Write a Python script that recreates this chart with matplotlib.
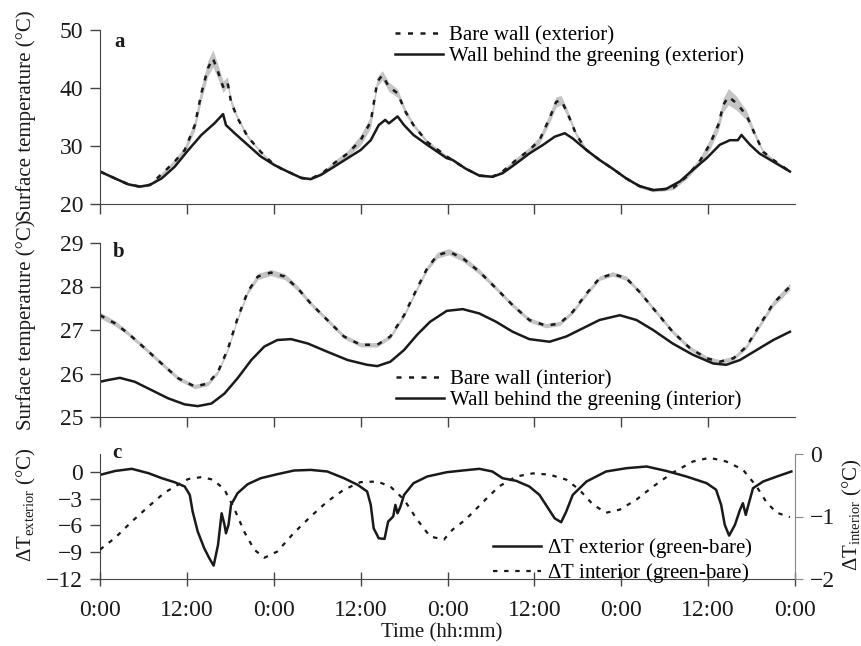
import matplotlib
matplotlib.use('Agg')
import matplotlib.pyplot as plt
import numpy as np

plt.rcParams['font.family'] = ['Liberation Serif', 'DejaVu Serif']
plt.rcParams['mathtext.fontset'] = 'custom'
plt.rcParams['mathtext.rm'] = 'Liberation Serif'
plt.rcParams['mathtext.it'] = 'Liberation Serif:italic'

# hours since start (4 days)
xticks = [0, 12, 24, 36, 48, 60, 72, 84, 96]
xticklabels = ['0:00', '12:00', '0:00', '12:00', '0:00', '12:00', '0:00', '12:00', '0:00']

# --- panel a: exterior surface temperature ---
t_bare_ext = [0, 2.1, 3.9, 5.5, 6.9, 8.9, 10.3, 11.7, 13.1, 14.0, 14.9, 15.6, 16.3, 17.0, 17.6, 18.1,
              19.0, 20.4, 22.2, 23.6, 25.0, 25.9, 27.8, 29.1, 31.0, 32.3, 34.2, 36.0, 37.4, 38.3, 39.0,
              39.9, 41.1, 42.2, 43.3, 45.2, 47.9, 50.5, 52.4, 54.2, 55.6, 57.5, 59.3, 60.7, 62.1, 63.0,
              63.7, 64.6, 65.8, 67.2, 69.0, 70.8, 72.7, 74.5, 76.4, 78.2, 79.2, 81.0, 82.8, 84.2, 85.4,
              86.1, 86.8, 87.9, 89.3, 90.5, 91.6, 93.0, 95.3]
bare_ext = [25.6, 24.4, 23.4, 23.0, 23.3, 25.6, 27.3, 29.3, 33.6, 39.1, 43.4, 45.1, 42.8, 40.2, 41.1, 37.6,
            34.8, 31.6, 29.0, 27.3, 26.1, 25.6, 24.5, 24.3, 25.6, 27.0, 28.7, 31.0, 34.2, 41.1, 42.2,
            40.2, 39.1, 35.9, 33.6, 30.7, 28.2, 26.1, 24.9, 24.7, 25.6, 27.6, 29.3, 31.0, 34.8, 37.6,
            37.9, 35.6, 31.9, 29.3, 27.6, 26.1, 24.4, 23.1, 22.4, 22.6, 22.8, 24.7, 27.3, 30.2, 33.6,
            37.1, 38.5, 37.4, 35.3, 31.9, 29.0, 27.6, 25.6]
bare_ext_sd = [0.2, 0.2, 0.2, 0.2, 0.2, 0.3, 0.4, 0.6, 0.9, 1.2, 1.3, 1.5, 1.2, 1.0, 0.8, 0.6,
               0.4, 0.3, 0.2, 0.2, 0.2, 0.2, 0.2, 0.2, 0.3, 0.4, 0.5, 0.9, 1.0, 0.8, 0.8,
               0.8, 0.7, 0.5, 0.4, 0.3, 0.2, 0.2, 0.2, 0.2, 0.3, 0.4, 0.5, 0.6, 0.8, 0.9,
               0.8, 0.6, 0.4, 0.3, 0.2, 0.2, 0.2, 0.3, 0.3, 0.3, 0.3, 0.4, 0.6, 0.9, 1.0,
               1.2, 1.4, 1.2, 0.8, 0.5, 0.3, 0.2, 0.2]

t_green_ext = [0, 2.1, 3.9, 5.5, 6.9, 8.5, 10.3, 12.2, 14.0, 15.8, 17.0, 17.4, 18.6, 20.4, 22.2, 24.1,
               25.9, 27.8, 29.1, 30.5, 32.3, 34.2, 36.0, 37.4, 38.5, 39.4, 39.9, 41.1, 42.0, 43.3, 45.2,
               47.9, 48.7, 50.5, 52.4, 54.2, 55.6, 57.5, 59.3, 61.2, 62.8, 64.2, 65.3, 67.2, 69.0, 70.8,
               72.7, 74.5, 76.4, 78.2, 80.1, 81.9, 83.8, 85.6, 87.0, 88.1, 88.6, 89.8, 91.1, 93.0, 95.3]
green_ext = [25.6, 24.4, 23.4, 23.0, 23.3, 24.4, 26.4, 29.3, 31.9, 33.9, 35.5, 33.6, 32.2, 30.2, 28.2, 26.7,
             25.6, 24.5, 24.3, 25.0, 26.4, 27.9, 29.3, 31.0, 33.6, 34.5, 33.9, 35.1, 33.6, 31.9, 30.2,
             27.9, 27.6, 26.1, 24.9, 24.7, 25.3, 27.0, 28.7, 30.2, 31.6, 32.2, 31.3, 29.3, 27.6, 26.1,
             24.4, 23.1, 22.4, 22.6, 23.9, 25.9, 27.9, 30.2, 31.0, 31.0, 31.9, 30.2, 28.7, 27.3, 25.6]

# --- panel b: interior surface temperature ---
t_bare_int = [0, 2.1, 3.9, 6.2, 8.5, 10.8, 13.1, 14.9, 16.3, 17.7, 19.0, 20.4, 21.8, 23.6, 25.5, 27.3,
              29.1, 31.4, 33.7, 36.0, 38.3, 40.1, 42.0, 43.8, 45.2, 46.6, 48.2, 50.1, 52.4, 54.7, 57.0,
              59.3, 61.6, 63.5, 65.3, 67.2, 69.0, 70.8, 72.7, 74.5, 76.8, 79.1, 81.5, 83.8, 85.6, 87.5,
              89.3, 91.1, 93.0, 95.3]
bare_int = [27.34, 27.15, 26.92, 26.58, 26.23, 25.89, 25.70, 25.77, 26.04, 26.58, 27.27, 27.88, 28.23,
            28.32, 28.23, 27.96, 27.61, 27.23, 26.85, 26.66, 26.66, 26.85, 27.34, 27.96, 28.42, 28.72,
            28.80, 28.65, 28.34, 27.96, 27.57, 27.23, 27.10, 27.15, 27.42, 27.84, 28.19, 28.29, 28.19,
            27.88, 27.42, 26.96, 26.58, 26.35, 26.27, 26.35, 26.62, 27.11, 27.61, 28.00]
bare_int_sd = [0.07, 0.06, 0.05, 0.05, 0.05, 0.05, 0.05, 0.05, 0.05, 0.05, 0.05, 0.06, 0.07,
               0.07, 0.07, 0.06, 0.05, 0.05, 0.05, 0.05, 0.05, 0.05, 0.05, 0.05, 0.06, 0.07,
               0.07, 0.07, 0.06, 0.05, 0.05, 0.05, 0.05, 0.05, 0.05, 0.05, 0.05, 0.05, 0.05,
               0.05, 0.05, 0.05, 0.05, 0.05, 0.05, 0.05, 0.05, 0.06, 0.07, 0.08]

t_green_int = [0, 1.1, 2.75, 4.8, 7.1, 9.4, 11.7, 13.5, 15.4, 17.2, 19.0, 20.9, 22.7, 24.5, 26.4, 28.7,
               31.4, 34.2, 36.9, 38.3, 40.1, 42.0, 43.8, 45.6, 47.9, 50.1, 52.4, 54.7, 57.0, 59.3, 62.1,
               64.4, 66.7, 69.0, 71.8, 74.1, 76.4, 79.1, 81.9, 84.7, 86.5, 88.4, 90.7, 93.0, 95.3]
green_int = [25.81, 25.85, 25.90, 25.81, 25.62, 25.43, 25.29, 25.25, 25.31, 25.54, 25.89, 26.31, 26.62,
             26.77, 26.79, 26.69, 26.50, 26.31, 26.20, 26.17, 26.27, 26.54, 26.89, 27.19, 27.44, 27.48,
             27.38, 27.19, 26.96, 26.79, 26.73, 26.85, 27.04, 27.23, 27.34, 27.23, 27.00, 26.69, 26.43,
             26.23, 26.20, 26.31, 26.54, 26.77, 26.96]

# --- panel c: differences (green - bare) ---
t_dext = [0, 2.1, 4.4, 6.7, 8.5, 10.3, 11.7, 12.4, 12.8, 13.5, 14.4, 15.1, 15.7, 16.3, 16.8, 17.2, 17.4,
          17.75, 18.1, 19.0, 20.4, 22.2, 24.5, 26.8, 29.1, 31.4, 33.7, 35.6, 36.9, 37.4, 37.8, 38.5, 39.3,
          39.8, 40.5, 40.8, 41.1, 41.5, 42.0, 43.3, 45.2, 47.9, 49.6, 52.4, 54.2, 55.6, 57.5, 59.3, 60.7,
          61.6, 62.8, 63.7, 64.4, 65.3, 67.2, 69.9, 72.7, 75.5, 78.2, 81.0, 83.8, 85.1, 85.8, 86.3, 86.9,
          87.7, 88.4, 88.8, 89.2, 89.5, 90.2, 91.6, 93.5, 95.5]
dT_ext = [-0.34, 0.1, 0.34, -0.15, -0.7, -1.16, -1.64, -2.58, -4.45, -6.69, -8.56, -9.68, -10.5, -8.19,
          -4.64, -5.94, -6.88, -5.94, -3.7, -2.39, -1.38, -0.71, -0.26, 0.15, 0.22, 0.04, -0.71, -1.46,
          -2.2, -3.7, -6.32, -7.44, -7.51, -5.57, -5.0, -3.7, -4.64, -3.89, -2.58, -1.27, -0.52, -0.04,
          0.11, 0.34, 0.04, -0.71, -1.01, -1.64, -2.58, -3.7, -5.2, -5.64, -4.45, -2.58, -1.08, 0.04,
          0.41, 0.6, 0.11, -0.52, -1.27, -2.0, -3.7, -5.94, -7.14, -5.94, -4.26, -3.51, -4.82, -3.89,
          -1.83, -1.08, -0.52, 0.04]

t_dint = [0, 2.1, 4.4, 6.7, 8.9, 10.8, 12.2, 14.0, 15.6, 17.2, 18.6, 20.0, 21.3, 22.7, 24.5, 26.8, 29.1,
          31.4, 33.7, 36.0, 38.3, 40.1, 42.0, 43.8, 45.6, 47.5, 48.7, 50.5, 52.8, 55.1, 57.5, 59.8, 62.1,
          64.4, 66.2, 68.1, 69.9, 71.8, 74.1, 76.4, 79.1, 81.9, 84.2, 86.5, 88.8, 90.7, 92.1, 93.5, 95.3]
dT_int = [-1.53, -1.34, -1.08, -0.84, -0.62, -0.49, -0.40, -0.37, -0.41, -0.57, -0.89, -1.26, -1.53,
          -1.66, -1.56, -1.26, -1.0, -0.76, -0.57, -0.45, -0.44, -0.52, -0.73, -1.05, -1.32, -1.37,
          -1.21, -1.05, -0.78, -0.52, -0.36, -0.31, -0.33, -0.41, -0.57, -0.81, -0.94, -0.89, -0.73,
          -0.52, -0.30, -0.12, -0.06, -0.12, -0.25, -0.52, -0.78, -0.94, -1.01]

ink = '#1a1a1a'
band = '#c4c4c4'
dash = (0, (2, 3))
W, H = 862, 646


def box(top, bottom):
    return [100 / W, 1 - bottom / H, 695 / W, (bottom - top) / H]


fig = plt.figure(figsize=(8.62, 6.46), dpi=100)
ax1 = fig.add_axes(box(30, 204))
ax2 = fig.add_axes(box(243, 417))
ax3 = fig.add_axes(box(454, 579))
ax4 = ax3.twinx()

for ax in [ax1, ax2, ax3]:
    ax.spines['top'].set_visible(False)
    ax.spines['right'].set_visible(False)
    ax.spines['left'].set_color('#444444')
    ax.spines['bottom'].set_color('#444444')
    ax.set_xlim(0, 96)
    ax.tick_params(colors='#444444', labelcolor=ink, labelsize=17, width=1, length=7, pad=5)

# a
b_ext = np.array(bare_ext)
s_ext = np.array(bare_ext_sd)
ax1.fill_between(t_bare_ext, b_ext - s_ext, b_ext + s_ext, color=band, lw=0)
ax1.plot(t_green_ext, green_ext, color=ink, lw=1.8, label='Wall behind the greening (exterior)')
ax1.plot(t_bare_ext, bare_ext, color=ink, lw=1.8, ls=dash, label='Bare wall (exterior)')
ax1.set_ylim(20, 50)
ax1.set_yticks([20, 30, 40, 50])
ax1.set_xticks(xticks[:-1])
ax1.set_xticklabels([])
h, l = ax1.get_legend_handles_labels()
ax1.legend(h[::-1], l[::-1], loc='upper left', bbox_to_anchor=(395 / W, 1 - 26 / H),
           bbox_transform=fig.transFigure, frameon=False, fontsize=15, handlelength=2.3,
           handletextpad=0.3, labelspacing=0.05, borderpad=0, borderaxespad=0)

# b
b_int = np.array(bare_int)
s_int = np.array(bare_int_sd)
ax2.fill_between(t_bare_int, b_int - s_int, b_int + s_int, color=band, lw=0)
ax2.plot(t_green_int, green_int, color=ink, lw=1.8, label='Wall behind the greening (interior)')
ax2.plot(t_bare_int, bare_int, color=ink, lw=1.8, ls=dash, label='Bare wall (interior)')
ax2.set_ylim(25, 29)
ax2.set_yticks([25, 26, 27, 28, 29])
ax2.set_xticks(xticks[:-1])
ax2.set_xticklabels([])
h, l = ax2.get_legend_handles_labels()
ax2.legend(h[::-1], l[::-1], loc='upper left', bbox_to_anchor=(396 / W, 1 - 370 / H),
           bbox_transform=fig.transFigure, frameon=False, fontsize=15, handlelength=2.3,
           handletextpad=0.3, labelspacing=0.05, borderpad=0, borderaxespad=0)

# c
l1, = ax3.plot(t_dext, dT_ext, color=ink, lw=1.8)
l2, = ax4.plot(t_dint, dT_int, color=ink, lw=1.6, ls=dash)
ax3.set_ylim(-12, 2)
ax3.set_yticks([-12, -9, -6, -3, 0])
ax3.set_xticks(xticks)
ax3.set_xticklabels(xticklabels)
ax3.tick_params(axis='x', direction='inout', length=10, pad=10)
ax4.set_ylim(-2, 0)
ax4.set_yticks([-2, -1, 0])
for s in ['top', 'left', 'bottom']:
    ax4.spines[s].set_visible(False)
ax4.spines['right'].set_color('#888888')
ax4.tick_params(colors='#888888', labelcolor=ink, labelsize=17, length=6, pad=5)
ax3.legend([l1, l2], [r'$\Delta$T exterior (green-bare)', r'$\Delta$T interior (green-bare)'],
           loc='upper left', bbox_to_anchor=(493 / W, 1 - 536 / H), bbox_transform=fig.transFigure,
           frameon=False, fontsize=15, handlelength=2.3, handletextpad=0.3, labelspacing=0.05,
           borderpad=0, borderaxespad=0)

# panel letters and axis titles
fig.text(114 / W, 1 - 42 / H, 'a', fontsize=15, fontweight='bold', va='center', color=ink)
fig.text(113 / W, 1 - 252 / H, 'b', fontsize=15, fontweight='bold', va='center', color=ink)
fig.text(112 / W, 1 - 453 / H, 'c', fontsize=15, fontweight='bold', va='center', color=ink)
fig.text(26 / W, 1 - 116 / H, 'Surface temperature (°C)', rotation=90, ha='center', va='center',
         fontsize=15, color=ink)
fig.text(26 / W, 1 - 325 / H, 'Surface temperature (°C)', rotation=90, ha='center', va='center',
         fontsize=15, color=ink)
fig.text(26 / W, 1 - 505 / H, r'$\Delta$T$_{\mathrm{exterior}}$ (°C)', rotation=90, ha='center',
         va='center', fontsize=15, color=ink)
fig.text(852 / W, 1 - 515 / H, r'$\Delta$T$_{\mathrm{interior}}$ (°C)', rotation=90, ha='center',
         va='center', fontsize=15, color=ink)
fig.text(442 / W, 1 - 633 / H, 'Time (hh:mm)', ha='center', va='center', fontsize=15, color=ink)

fig.savefig('out.png', dpi=100)
